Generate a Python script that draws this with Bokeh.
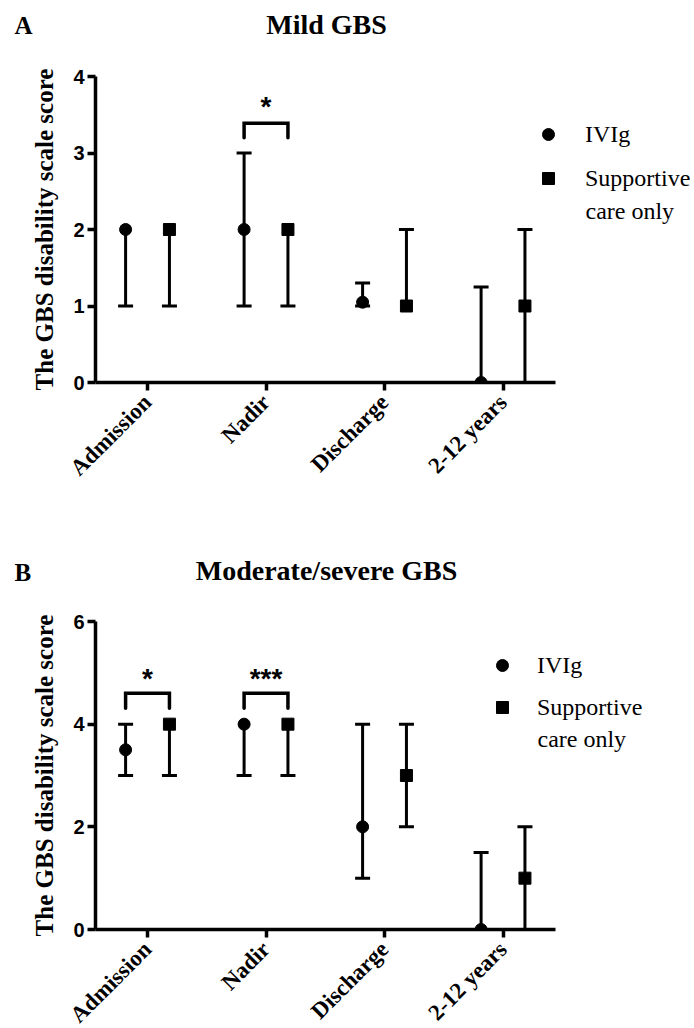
from bokeh.plotting import figure
from bokeh.models import (FixedTicker, Label, Legend, LegendItem, ColumnDataSource, Range1d)
from bokeh.layouts import column
from bokeh.embed import file_html
from bokeh.resources import INLINE
from bokeh.core.properties import value

categories = ["Admission", "Nadir", "Discharge", "2-12 years"]

# Panel A: Mild GBS (median and range)
mild_ivig_med = [2, 2, 1.05, 0]
mild_ivig_lo = [1, 1, 1, 0]
mild_ivig_hi = [2, 3, 1.3, 1.25]
mild_supp_med = [2, 2, 1, 1]
mild_supp_lo = [1, 1, 1, 0]
mild_supp_hi = [2, 2, 2, 2]
mild_sig_cats = ["Nadir"]
mild_sig_labels = ["*"]
mild_sig_top = [3.39]
mild_sig_leg = [3.2]
mild_sig_star = [3.66]

# Panel B: Moderate/severe GBS
sev_ivig_med = [3.5, 4, 2, 0]
sev_ivig_lo = [3, 3, 1, 0]
sev_ivig_hi = [4, 4, 4, 1.5]
sev_supp_med = [4, 4, 3, 1]
sev_supp_lo = [3, 3, 2, 0]
sev_supp_hi = [4, 4, 4, 2]
sev_sig_cats = ["Admission", "Nadir"]
sev_sig_labels = ["*", "***"]
sev_sig_top = [4.6, 4.6]
sev_sig_leg = [4.31, 4.31]
sev_sig_star = [4.97, 4.97]

OFFSET = 0.185
SERIF = "Liberation Serif"
SANS = "Liberation Sans"
FIG_W = 694
LEFT = 95
PX_PER_CAT = 118.5
X0 = 0.561
X_AXIS_END = 4.443


def make_header(letter, title, height, letter_y, title_y, title_x):
    h = figure(output_backend="svg", toolbar_location=None, width=FIG_W, height=height,
               x_range=Range1d(0, FIG_W), y_range=Range1d(0, height),
               x_axis_type=None, y_axis_type=None, min_border=0, frame_align=False)
    h.outline_line_color = None
    h.xgrid.visible = False
    h.ygrid.visible = False
    h.add_layout(Label(x=14, y=letter_y, text=letter, text_font=SERIF, text_font_style="bold",
                       text_font_size="25px", text_baseline="middle", text_color="black"))
    h.add_layout(Label(x=title_x, y=title_y, text=title, text_font=SERIF, text_font_style="bold",
                       text_font_size="28px", text_baseline="middle", text_align="center",
                       text_color="black"))
    return h


def make_panel(ymax, yticks, ivig, supp, sig, frame_h, top_border, bottom_border,
               leg_loc, leg_std, leg_spacing, care_xy):
    xpos = list(range(1, len(categories) + 1))
    frame_w = FIG_W - LEFT
    p = figure(output_backend="svg", toolbar_location=None,
               width=FIG_W, frame_height=frame_h, frame_align=False,
               min_border_left=LEFT, min_border_right=0,
               min_border_top=top_border, min_border_bottom=bottom_border,
               x_range=Range1d(X0, X0 + frame_w / PX_PER_CAT), y_range=Range1d(0, ymax))
    p.outline_line_color = None
    p.xgrid.visible = False
    p.ygrid.visible = False
    p.background_fill_color = "white"

    for ax in (p.xaxis[0], p.yaxis[0]):
        ax.axis_line_width = 3.5
        ax.axis_line_color = "black"
        ax.major_tick_line_width = 3.5
        ax.major_tick_line_color = "black"
        ax.major_tick_out = 8
        ax.major_tick_in = 0
        ax.minor_tick_line_color = None

    p.xaxis.bounds = (X0, X_AXIS_END)
    p.xaxis.ticker = FixedTicker(ticks=xpos)
    p.xaxis.major_label_overrides = {i: c for i, c in zip(xpos, categories)}
    p.xaxis.major_label_orientation = 0.785398
    p.xaxis.major_label_text_font = SERIF
    p.xaxis.major_label_text_font_style = "bold"
    p.xaxis.major_label_text_font_size = "23px"
    p.xaxis.major_label_text_color = "black"
    p.xaxis.major_label_standoff = 8

    p.yaxis.ticker = FixedTicker(ticks=yticks)
    p.yaxis.major_label_text_font = SANS
    p.yaxis.major_label_text_font_style = "bold"
    p.yaxis.major_label_text_font_size = "20px"
    p.yaxis.major_label_text_color = "black"
    p.yaxis.major_label_standoff = 3
    p.yaxis.axis_label = "The GBS disability scale score"
    p.yaxis.axis_label_text_font = SERIF
    p.yaxis.axis_label_text_font_style = "bold"
    p.yaxis.axis_label_text_font_size = "25px"
    p.yaxis.axis_label_text_color = "black"
    p.yaxis.axis_label_standoff = 12

    renderers = []
    for (med, lo, hi), off, marker in ((ivig, -OFFSET, "circle"), (supp, OFFSET, "square")):
        xs = [x + off for x in xpos]
        src = ColumnDataSource(dict(x=xs, med=med, lo=lo, hi=hi))
        p.segment(x0="x", y0="lo", x1="x", y1="hi", source=src, line_width=3, line_color="black")
        cap_x = [x for x, m, h in zip(xs, med, hi) if h != m] + [x for x, m, l in zip(xs, med, lo) if l != m]
        cap_y = [h for m, h in zip(med, hi) if h != m] + [l for m, l in zip(med, lo) if l != m]
        p.scatter(x=cap_x, y=cap_y, marker="dash", size=15, line_width=3, line_color="black")
        r = p.scatter(x="x", y="med", source=src, marker=marker, size=12,
                      fill_color="black", line_color="black")
        renderers.append(r)

    cats, labels, tops, legs, stars = sig
    bx, by = [], []
    for c, t, l in zip(cats, tops, legs):
        cx = categories.index(c) + 1
        bx.append([cx - OFFSET, cx - OFFSET, cx + OFFSET, cx + OFFSET])
        by.append([l, t, t, l])
    p.multi_line(xs=bx, ys=by, line_width=3.5, line_color="black", line_cap="round", line_join="miter")
    p.text(x=[categories.index(c) + 1 for c in cats], y=stars, text=labels,
           text_font=value(SANS), text_font_style="bold", text_font_size="28px",
           text_align="center", text_baseline="middle", text_color="black", y_offset=4)

    legend = Legend(items=[LegendItem(label="IVIg", renderers=[renderers[0]]),
                           LegendItem(label="Supportive", renderers=[renderers[1]])],
                    location=leg_loc, glyph_width=30, glyph_height=30, label_height=30,
                    spacing=leg_spacing, padding=0, margin=0, label_standoff=leg_std,
                    border_line_alpha=0, background_fill_alpha=0,
                    label_text_font=SERIF, label_text_font_size="24px", label_text_color="black")
    p.add_layout(legend)
    p.add_layout(Label(x=care_xy[0], y=care_xy[1], x_units="screen", y_units="screen",
                       text="care only", text_font=SERIF, text_font_size="24px",
                       text_baseline="middle", text_color="black"))
    return p


hA = make_header("A", "Mild GBS", 50, 25, 26, 326)
pA = make_panel(4, [0, 1, 2, 3, 4],
                (mild_ivig_med, mild_ivig_lo, mild_ivig_hi),
                (mild_supp_med, mild_supp_lo, mild_supp_hi),
                (mild_sig_cats, mild_sig_labels, mild_sig_top, mild_sig_leg, mild_sig_star),
                frame_h=306, top_border=26, bottom_border=158,
                leg_loc=(438, 189), leg_std=22, leg_spacing=14, care_xy=(490, 172))

hB = make_header("B", "Moderate/severe GBS", 60, 28, 30, 326)
pB = make_panel(6, [0, 2, 4, 6],
                (sev_ivig_med, sev_ivig_lo, sev_ivig_hi),
                (sev_supp_med, sev_supp_lo, sev_supp_hi),
                (sev_sig_cats, sev_sig_labels, sev_sig_top, sev_sig_leg, sev_sig_star),
                frame_h=308, top_border=21, bottom_border=92,
                leg_loc=(392, 207), leg_std=20, leg_spacing=12, care_xy=(442, 191))

layout = column(hA, pA, hB, pB)
open("out.html", "w").write(file_html(layout, INLINE))
